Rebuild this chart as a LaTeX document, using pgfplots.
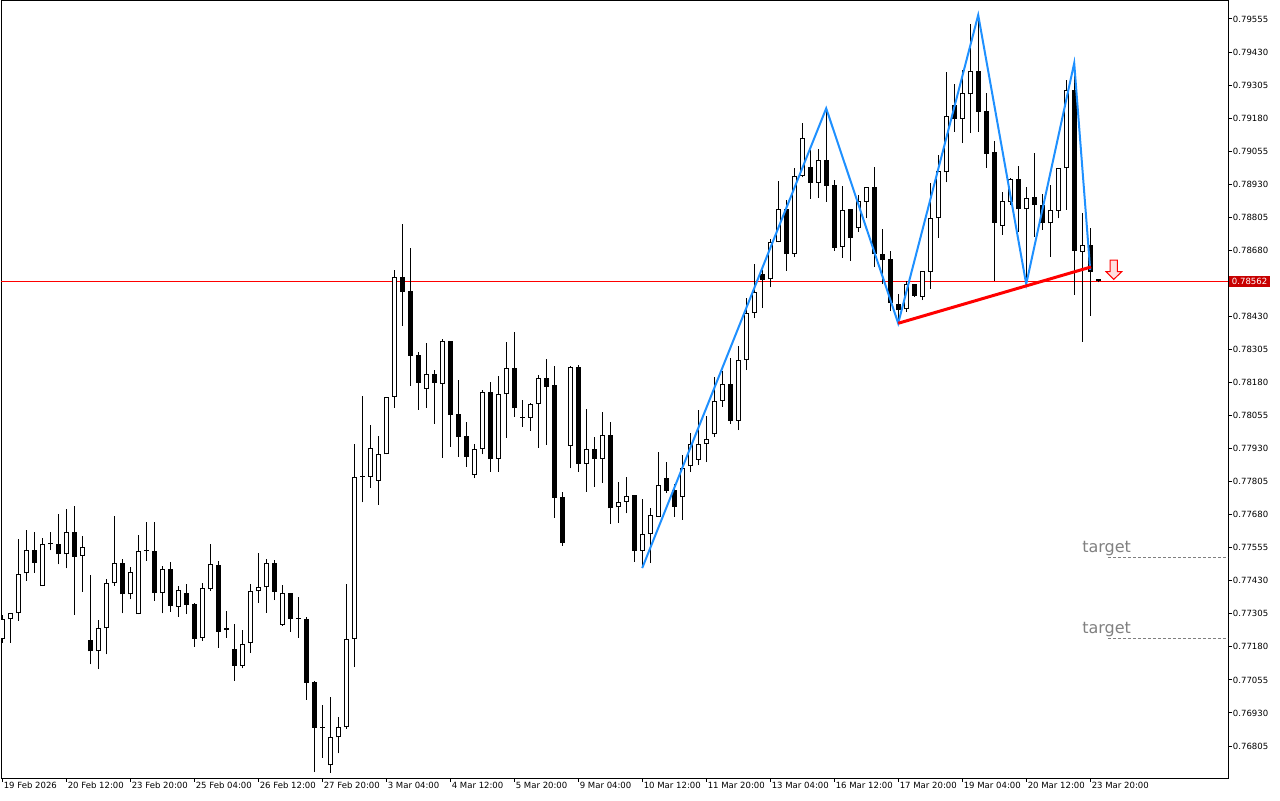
\documentclass[border=0pt]{standalone}
\usepackage{fontspec}
\usepackage{pgfplots}
\usepackage{pgfplotstable}
\pgfplotsset{compat=1.18}
\setmainfont{DejaVu Sans}
\newfontfamily\tickfont{DejaVu Sans}
\definecolor{zzblue}{RGB}{30,144,255}
\definecolor{boxred}{RGB}{200,0,0}
\definecolor{tgtgray}{RGB}{128,128,128}

\pgfplotstableread{
i o h l c
0 0.77209 0.77301 0.77195 0.77284
1 0.77284 0.77308 0.77196 0.77307
2 0.77307 0.77588 0.77279 0.77454
3 0.77458 0.77622 0.77430 0.77546
4 0.77546 0.77614 0.77460 0.77498
5 0.77410 0.77593 0.77410 0.77568
6 0.77568 0.77614 0.77545 0.77568
7 0.77568 0.77683 0.77492 0.77530
8 0.77530 0.77701 0.77477 0.77613
9 0.77613 0.77713 0.77301 0.77521
10 0.77524 0.77599 0.77389 0.77559
11 0.77205 0.77452 0.77114 0.77163
12 0.77163 0.77281 0.77096 0.77250
13 0.77250 0.77437 0.77152 0.77420
14 0.77420 0.77675 0.77411 0.77496
15 0.77496 0.77512 0.77307 0.77379
16 0.77379 0.77483 0.77360 0.77462
17 0.77304 0.77603 0.77304 0.77543
18 0.77543 0.77651 0.77505 0.77543
19 0.77543 0.77651 0.77354 0.77383
20 0.77383 0.77487 0.77307 0.77475
21 0.77475 0.77502 0.77313 0.77335
22 0.77332 0.77410 0.77294 0.77395
23 0.77384 0.77418 0.77304 0.77340
24 0.77342 0.77345 0.77181 0.77211
25 0.77215 0.77423 0.77203 0.77402
26 0.77398 0.77569 0.77392 0.77492
27 0.77490 0.77505 0.77177 0.77237
28 0.77243 0.77316 0.77215 0.77250
29 0.77172 0.77265 0.77052 0.77109
30 0.77109 0.77244 0.77099 0.77190
31 0.77194 0.77418 0.77158 0.77390
32 0.77390 0.77535 0.77347 0.77405
33 0.77405 0.77511 0.77309 0.77496
34 0.77496 0.77509 0.77357 0.77389
35 0.77264 0.77414 0.77260 0.77384
36 0.77384 0.77384 0.77237 0.77287
37 0.77287 0.77367 0.77215 0.77287
38 0.77285 0.77292 0.76980 0.77045
39 0.77047 0.77051 0.76706 0.76874
40 0.76874 0.76960 0.76761 0.76874
41 0.76732 0.76990 0.76704 0.76838
42 0.76838 0.76914 0.76777 0.76876
43 0.76876 0.77418 0.76870 0.77210
44 0.77210 0.77946 0.77103 0.77821
45 0.77822 0.78129 0.77727 0.77822
46 0.77824 0.78019 0.77782 0.77931
47 0.77808 0.77978 0.77717 0.77908
48 0.77908 0.78126 0.77908 0.78126
49 0.78126 0.78606 0.78085 0.78580
50 0.78579 0.78780 0.78395 0.78524
51 0.78526 0.78688 0.78168 0.78281
52 0.78284 0.78297 0.78076 0.78179
53 0.78157 0.78329 0.78085 0.78211
54 0.78211 0.78227 0.78024 0.78179
55 0.78175 0.78345 0.77895 0.78337
56 0.78337 0.78337 0.77937 0.78057
57 0.78060 0.78190 0.77899 0.77975
58 0.77978 0.78029 0.77862 0.77899
59 0.77830 0.77946 0.77818 0.77927
60 0.77927 0.78152 0.77908 0.78143
61 0.78143 0.78181 0.77843 0.77890
62 0.77890 0.78204 0.77843 0.78135
63 0.78135 0.78334 0.77971 0.78234
64 0.78234 0.78370 0.78051 0.78082
65 0.78047 0.78114 0.78013 0.78047
66 0.78047 0.78101 0.77998 0.78098
67 0.78098 0.78208 0.77933 0.78196
68 0.78196 0.78269 0.77944 0.78164
69 0.78171 0.78242 0.77669 0.77744
70 0.77746 0.77765 0.77563 0.77572
71 0.77941 0.78242 0.77855 0.78238
72 0.78238 0.78246 0.77843 0.77871
73 0.77871 0.78079 0.77767 0.77927
74 0.77927 0.77975 0.77786 0.77890
75 0.77890 0.78068 0.77801 0.77980
76 0.77980 0.78029 0.77644 0.77704
77 0.77708 0.77802 0.77650 0.77729
78 0.77729 0.77821 0.77685 0.77752
79 0.77754 0.77754 0.77502 0.77544
80 0.77544 0.77739 0.77478 0.77606
81 0.77606 0.77704 0.77497 0.77679
82 0.77672 0.77916 0.77672 0.77792
83 0.77818 0.77880 0.77762 0.77770
84 0.77773 0.77795 0.77672 0.77710
85 0.77747 0.77906 0.77660 0.77857
86 0.77864 0.77988 0.77841 0.77947
87 0.77887 0.78076 0.77868 0.77947
88 0.77947 0.78053 0.77879 0.77965
89 0.77984 0.78200 0.77975 0.78110
90 0.78110 0.78225 0.78088 0.78173
91 0.78173 0.78272 0.78023 0.78035
92 0.78035 0.78318 0.78000 0.78265
93 0.78265 0.78499 0.78227 0.78442
94 0.78442 0.78628 0.78423 0.78521
95 0.78591 0.78606 0.78461 0.78568
96 0.78570 0.78722 0.78540 0.78710
97 0.78710 0.78943 0.78710 0.78836
98 0.78836 0.78870 0.78603 0.78666
99 0.78666 0.78990 0.78654 0.78962
100 0.78961 0.79163 0.78956 0.79104
101 0.78995 0.79060 0.78875 0.78936
102 0.78936 0.79063 0.78879 0.79021
103 0.79021 0.79217 0.78864 0.78924
104 0.78927 0.78946 0.78679 0.78690
105 0.78694 0.78923 0.78652 0.78833
106 0.78836 0.78836 0.78640 0.78728
107 0.78763 0.78889 0.78751 0.78865
108 0.78864 0.78918 0.78801 0.78918
109 0.78918 0.78994 0.78616 0.78665
110 0.78666 0.78761 0.78552 0.78643
111 0.78647 0.78679 0.78450 0.78480
112 0.78477 0.78514 0.78404 0.78454
113 0.78457 0.78564 0.78446 0.78551
114 0.78551 0.78554 0.78505 0.78508
115 0.78505 0.78602 0.78492 0.78602
116 0.78599 0.78934 0.78534 0.78801
117 0.78801 0.79041 0.78728 0.78980
118 0.78975 0.79353 0.78937 0.79188
119 0.79230 0.79309 0.79129 0.79176
120 0.79176 0.79362 0.79085 0.79274
121 0.79270 0.79536 0.79123 0.79358
122 0.79358 0.79570 0.79129 0.79204
123 0.79207 0.79274 0.78993 0.79046
124 0.79053 0.79094 0.78564 0.78785
125 0.78773 0.78902 0.78738 0.78867
126 0.78862 0.78952 0.78852 0.78950
127 0.78950 0.78999 0.78751 0.78835
128 0.78835 0.78921 0.78552 0.78877
129 0.78882 0.79047 0.78732 0.78853
130 0.78852 0.78893 0.78757 0.78785
131 0.78782 0.78927 0.78656 0.78833
132 0.78830 0.78990 0.78801 0.78990
133 0.78990 0.79324 0.78833 0.79287
134 0.79287 0.79388 0.78511 0.78679
135 0.78675 0.78820 0.78334 0.78700
136 0.78700 0.78763 0.78432 0.78599
137 0.78570 0.78570 0.78559 0.78562
}\candles

\pgfplotstableread{
x y
-0.15 0.78562
153.225 0.78562
}\bidline

\begin{document}
\begin{tikzpicture}
\begin{axis}[
  at={(0.75pt,16.5pt)}, anchor=south west,
  scale only axis, width=920.25pt, height=582.75pt,
  xmin=-0.15, xmax=153.225, ymin=0.76684, ymax=0.79623,
  axis line style={line width=0.75pt},
  tick align=outside, major tick length=3pt,
  every tick/.style={black, line width=0.75pt},
  xtick pos=bottom, ytick pos=right, yticklabel pos=right,
  xtick={0,8,16,24,32,40,48,56,64,72,80,88,96,104,112,120,128,136},
  xticklabels={19 Feb 2026,20 Feb 12:00,23 Feb 20:00,25 Feb 04:00,26 Feb 12:00,27 Feb 20:00,3 Mar 04:00,4 Mar 12:00,5 Mar 20:00,9 Mar 04:00,10 Mar 12:00,11 Mar 20:00,13 Mar 04:00,16 Mar 12:00,17 Mar 20:00,19 Mar 04:00,20 Mar 12:00,23 Mar 20:00},
  ytick={0.76805,0.76930,0.77055,0.77180,0.77305,0.77430,0.77555,0.77680,0.77805,0.77930,0.78055,0.78180,0.78305,0.78430,0.78680,0.78805,0.78930,0.79055,0.79180,0.79305,0.79430,0.79555},
  yticklabels={0.76805,0.76930,0.77055,0.77180,0.77305,0.77430,0.77555,0.77680,0.77805,0.77930,0.78055,0.78180,0.78305,0.78430,0.78680,0.78805,0.78930,0.79055,0.79180,0.79305,0.79430,0.79555},
  tick label style={font=\tickfont\fontsize{6.4}{7.5}\selectfont, inner sep=0pt},
  xticklabel style={anchor=north west, xshift=1pt},
  yticklabel style={anchor=west, xshift=0.5pt},
  clip mode=individual,
]
% bid line
\addplot[draw=red, line width=0.75pt, mark=none] table[x=x, y=y] {\bidline};
% wicks
\addplot[black, line width=0.75pt, -, quiver={u=0, v={\thisrow{h}-\thisrow{l}}}] table[x=i, y=l] {\candles};
% bodies (outline / bear fill)
\addplot[black, line width=3.75pt, -, quiver={u=0, v={max(abs(\thisrow{c}-\thisrow{o}),0.0000378)}}] table[x=i, y expr={min(\thisrow{o},\thisrow{c})}] {\candles};
% bull interior
\addplot[white, line width=2.25pt, -, quiver={u=0, v={(\thisrow{c}>\thisrow{o})*max(\thisrow{c}-\thisrow{o}-0.0000757,0)}}] table[x=i, y expr={\thisrow{o}+0.0000378}] {\candles};
% zigzag
\addplot[zzblue, line width=1.5pt, mark=none] coordinates {(80,0.77478) (103,0.79217) (112,0.78404) (122,0.79570) (128,0.78552) (134,0.79388) (136,0.78606)};
% neckline
\addplot[red, line width=2.25pt, mark=none] coordinates {(112,0.78404) (136.1,0.78617)};
% targets
\addplot[tgtgray, line width=0.75pt, dash pattern=on 2.25pt off 1.5pt, mark=none] coordinates {(138.2,0.77519) (153.225,0.77519)};
\addplot[tgtgray, line width=0.75pt, dash pattern=on 2.25pt off 1.5pt, mark=none] coordinates {(138.2,0.77212) (153.225,0.77212)};
\node[anchor=base west, text=tgtgray, font=\fontsize{12}{14}\selectfont, inner sep=0pt] at (axis cs:134.98,0.77538) {target};
\node[anchor=base west, text=tgtgray, font=\fontsize{12}{14}\selectfont, inner sep=0pt] at (axis cs:134.98,0.77229) {target};
% arrow
\draw[red, line width=0.75pt, fill=red!12] (axis cs:138.48,0.78643) -- (axis cs:139.39,0.78643) -- (axis cs:139.39,0.78599) -- (axis cs:139.94,0.78599) -- (axis cs:138.94,0.78570) -- (axis cs:137.98,0.78599) -- (axis cs:138.48,0.78599) -- cycle;
% price box
\node[fill=boxred, text=white, font=\tickfont\fontsize{6.4}{7.5}\selectfont, inner xsep=2pt, inner ysep=1.6pt, anchor=west, xshift=0.75pt] at (axis cs:153.225,0.78562) {0.78562};
\end{axis}
\pgfresetboundingbox
\useasboundingbox (0,0) rectangle (960pt,600pt);
\end{tikzpicture}
\end{document}
